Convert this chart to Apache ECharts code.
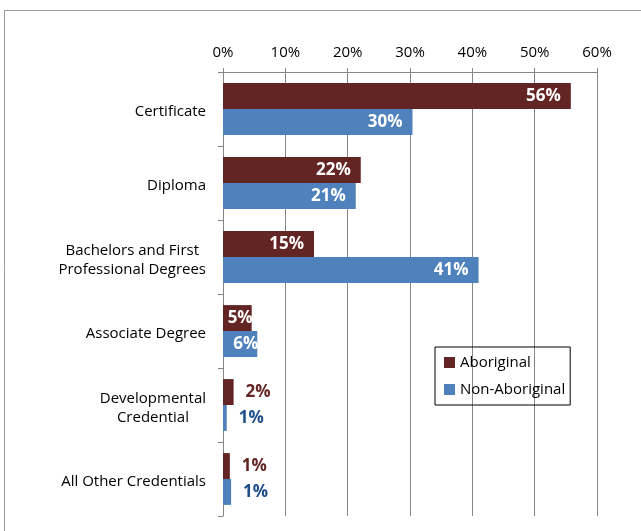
<!DOCTYPE html>
<html>
<head>
<meta charset="utf-8">
<script src="https://cdn.jsdelivr.net/npm/echarts@6/dist/echarts.min.js"></script>
<style>
  html, body { margin: 0; padding: 0; background: #fff; }
  #chart { width: 641px; height: 531px; }
</style>
</head>
<body>
<div id="chart"></div>
<script>
const categories = [
  'Certificate',
  'Diploma',
  'Bachelors and First\nProfessional Degrees',
  'Associate Degree',
  'Developmental\nCredential',
  'All Other Credentials'
]
const aboriginal = [55.8, 22.1, 14.6, 4.6, 1.7, 1.1]
const nonAboriginal = [30.4, 21.3, 41.0, 5.5, 0.6, 1.3]
const xTicks = [0, 10, 20, 30, 40, 50, 60]

const FONT = '"Open Sans", Lato, sans-serif'
const RED = '#632523'
const BLUE = '#4f81bd'

function barData(values, outsideColor) {
  return values.map(v => ({
    value: v,
    label: v < 3
      ? { position: 'right', distance: 12, color: outsideColor }
      : { position: 'insideRight', distance: v < 10 ? -1 : 10, color: '#fff' }
  }))
}

const chart = echarts.init(document.getElementById('chart'))
chart.setOption({
  animation: false,
  textStyle: { fontFamily: FONT },
  graphic: [{
    type: 'rect',
    shape: { x: 4.5, y: 10.5, width: 700, height: 600 },
    style: { fill: 'none', stroke: '#9a9a9a', lineWidth: 1 }
  }],
  grid: { left: 223, top: 72, right: 44, bottom: 15 },
  legend: {
    orient: 'vertical',
    left: 435,
    top: 347,
    padding: [8, 5, 8, 9],
    itemGap: 12,
    itemWidth: 11,
    itemHeight: 11,
    borderColor: '#000',
    borderWidth: 1,
    icon: 'rect',
    textStyle: { fontSize: 15, color: '#000', fontFamily: FONT },
    data: ['Aboriginal', 'Non-Aboriginal']
  },
  xAxis: {
    type: 'value',
    position: 'top',
    min: xTicks[0],
    max: xTicks[xTicks.length - 1],
    interval: 10,
    axisLine: { show: true, lineStyle: { color: '#868686' } },
    axisTick: { show: true, length: 4, lineStyle: { color: '#868686' } },
    splitLine: { show: true, lineStyle: { color: '#868686' } },
    axisLabel: { formatter: '{value}%', fontSize: 15, color: '#000', margin: 12 }
  },
  yAxis: {
    type: 'category',
    inverse: true,
    data: categories,
    axisLine: { show: true, lineStyle: { color: '#868686' } },
    axisTick: { show: true, length: 5, lineStyle: { color: '#868686' } },
    axisLabel: {
      margin: 17,
      align: 'right',
      padding: [6, 0, 0, 0],
      formatter: v => v.split('\n').map(s => '{c|' + s + '}').join('\n'),
      rich: { c: { align: 'center', fontSize: 15, color: '#000', lineHeight: 19, fontFamily: FONT } }
    }
  },
  series: [
    {
      name: 'Aboriginal',
      type: 'bar',
      data: barData(aboriginal, RED),
      itemStyle: { color: RED },
      barCategoryGap: '30%',
      barGap: '0%',
      label: {
        show: true,
        fontSize: 17,
        fontWeight: 'bold',
        formatter: p => Math.round(p.value) + '%'
      }
    },
    {
      name: 'Non-Aboriginal',
      type: 'bar',
      data: barData(nonAboriginal, '#1f4e89'),
      itemStyle: { color: BLUE },
      barCategoryGap: '30%',
      barGap: '0%',
      label: {
        show: true,
        fontSize: 17,
        fontWeight: 'bold',
        formatter: p => Math.round(p.value) + '%'
      }
    }
  ]
})
</script>
</body>
</html>
